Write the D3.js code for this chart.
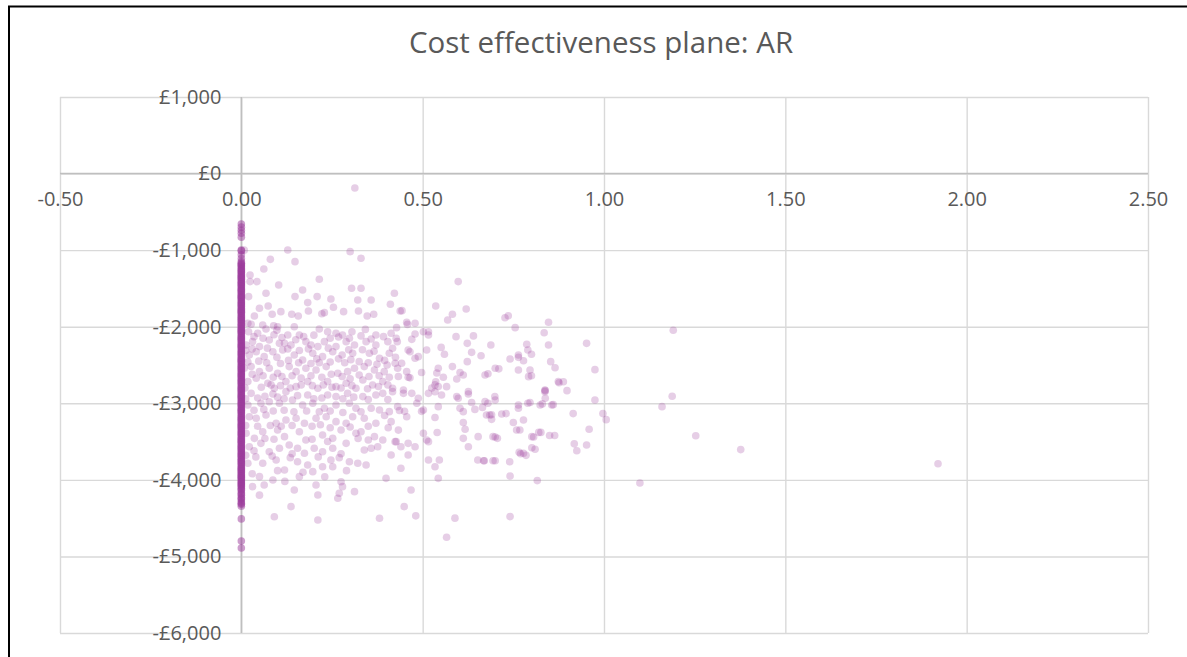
<!DOCTYPE html>
<html><head><meta charset="utf-8">
<script src="https://cdn.jsdelivr.net/npm/d3@7"></script>
<style>
html,body{margin:0;padding:0;background:#fff;}
svg{display:block;}
text{font-family:"Open Sans","Noto Sans",sans-serif;fill:#595959;}
</style></head>
<body>
<svg id="chart" width="1187" height="657"></svg>
<script>
const chartTitle = "Cost effectiveness plane: AR";
const xTickValues = [-0.5, 0, 0.5, 1, 1.5, 2, 2.5];
const xTickLabels = ["-0.50", "0.00", "0.50", "1.00", "1.50", "2.00", "2.50"];
const yTickValues = [1000, 0, -1000, -2000, -3000, -4000, -5000, -6000];
const yTickLabels = ["£1,000", "£0", "-£1,000", "-£2,000", "-£3,000", "-£4,000", "-£5,000", "-£6,000"];

// Incremental cost of simulations with zero incremental QALY (dense strip at 0.00)
const zeroQalyCosts = [-660,-700,-740,-780,-830,-1000,-1010,-1060,-1110,-1150,-1170,-1195,-1220,-1240,-1265,-1290,-1310,-1335,-1360,-1385,-1405,-1430,-1455,-1480,-1500,-1525,-1550,-1570,-1595,-1620,-1645,-1665,-1690,-1715,-1740,-1760,-1785,-1810,-1835,-1855,-1880,-1905,-1930,-1950,-1975,-2000,-2020,-2045,-2070,-2095,-2115,-2140,-2165,-2190,-2210,-2235,-2260,-2285,-2305,-2330,-2355,-2380,-2400,-2425,-2450,-2475,-2495,-2520,-2545,-2570,-2590,-2615,-2640,-2665,-2685,-2710,-2735,-2760,-2780,-2805,-2830,-2855,-2875,-2900,-2925,-2950,-2970,-2995,-3020,-3045,-3065,-3090,-3115,-3140,-3160,-3185,-3210,-3235,-3255,-3280,-3305,-3330,-3350,-3375,-3400,-3425,-3445,-3470,-3495,-3520,-3540,-3565,-3590,-3615,-3635,-3660,-3685,-3710,-3730,-3755,-3780,-3805,-3825,-3850,-3875,-3900,-3920,-3945,-3970,-3995,-4015,-4040,-4065,-4090,-4110,-4140,-4170,-4200,-4230,-4260,-4290,-4320,-4345,-4510,-4800,-4890,
-1182,-1208,-1252,-1278,-1322,-1348,-1372,-1418,-1442,-1468,-1512,-1538,-1582,-1608,-1632,-1678,-1702,-1728,-1772,-1798,-1822,-1868,-1892,-1918,-1962,-1988,-2032,-2058,-2082,-2128,-2152,-2178,-2222,-2248,-2272,-2318,-2342,-2368,-2412,-2438,-2462,-2508,-2532,-2558,-2602,-2628,-2652,-2698,-2722,-2748,-2792,-2818,-2842,-2888,-2912,-2938,-2982,-3008,-3032,-3078,-3102,-3128,-3172,-3198,-3222,-3268,-3292,-3318,-3362,-3388,-3412,-3458,-3482,-3508,-3552,-3578,-3602,-3648,-3672,-3698,-3742,-3768,-3792,-3838,-3862,-3888,-3932,-3958,-3982,-4028,-4052,-4078,-4125,-4185,-4245,-4305];

// [incremental QALY, incremental cost]
const scatterPoints = [
[0.008,-1000],[0.128,-998],[0.30,-1020],[0.33,-1106],[0.08,-1120],[0.148,-1150],[0.062,-1246],[0.024,-1324],[0.043,-1411],[0.024,-1411],[0.215,-1380],[0.103,-1455],[0.304,-1498],[0.33,-1498],[0.169,-1520],[0.068,-1563],[0.02,-1607],[0.148,-1607],[0.209,-1607],[0.247,-1638],[0.321,-1651],[0.358,-1651],[0.422,-1563],[0.183,-1685],[0.411,-1707],[0.074,-1729],[0.254,-1746],[0.05,-1759],[0.185,-1795],[0.109,-1803],[0.229,-1816],[0.282,-1803],[0.323,-1795],[0.347,-1860],[0.365,-1838],[0.438,-1795],[0.036,-1860],[0.085,-1838],[0.139,-1838],[0.157,-1860],[0.222,-1830],[0.018,-1955],[0.027,-1968],[0.059,-1977],[0.089,-1987],[0.10,-2000],[0.146,-2000],
[0.020,-2065],[0.045,-2086],[0.068,-2030],[0.098,-2045],[0.128,-2108],[0.160,-2108],[0.215,-2030],[0.238,-2065],[0.261,-2086],[0.279,-2108],[0.305,-2065],[0.342,-2035],[0.371,-2108],[0.413,-2086],[0.427,-2151],
[0.013,-2239],[0.031,-2195],[0.050,-2260],[0.077,-2173],[0.105,-2217],[0.119,-2217],[0.137,-2239],[0.178,-2195],[0.192,-2239],[0.211,-2260],[0.229,-2195],[0.261,-2260],[0.289,-2195],[0.312,-2239],[0.344,-2195],[0.371,-2239],[0.404,-2195],[0.417,-2282],
[0.022,-2369],[0.041,-2326],[0.063,-2391],[0.087,-2326],[0.114,-2304],[0.146,-2369],[0.169,-2434],[0.197,-2347],[0.224,-2391],[0.252,-2326],[0.278,-2369],[0.307,-2347],[0.325,-2456],[0.353,-2347],[0.381,-2412],[0.408,-2347],
[0.008,-2543],[0.027,-2521],[0.050,-2587],[0.077,-2543],[0.100,-2608],[0.132,-2521],[0.151,-2587],[0.178,-2543],[0.206,-2565],[0.234,-2521],[0.266,-2608],[0.293,-2587],[0.312,-2543],[0.339,-2521],[0.367,-2565],[0.394,-2587],[0.431,-2543],
[0.018,-2717],[0.041,-2673],[0.073,-2739],[0.091,-2804],[0.123,-2717],[0.151,-2783],[0.183,-2717],[0.211,-2804],[0.238,-2717],[0.261,-2783],[0.289,-2739],[0.316,-2804],[0.335,-2696],[0.362,-2761],[0.390,-2717],[0.417,-2804],
[0.027,-2870],[0.087,-2878],[0.123,-2848],[0.183,-2891],[0.238,-2891],[0.261,-2913],[0.293,-2870],[0.335,-2913],[0.371,-2891],[0.390,-2870],[0.417,-2848],
[0.018,-3022],[0.054,-3000],[0.077,-2979],[0.105,-3000],[0.141,-2957],[0.169,-3022],[0.197,-3000],[0.229,-3065],[0.261,-3022],[0.298,-3000],[0.316,-3065],[0.358,-3065],[0.381,-3087],[0.408,-3109],[0.431,-3044],
[0.022,-3175],[0.041,-3196],[0.068,-3153],[0.096,-3261],[0.123,-3218],[0.151,-3196],[0.174,-3261],[0.206,-3196],[0.234,-3175],[0.261,-3240],[0.289,-3261],[0.307,-3175],[0.339,-3196],[0.371,-3261],[0.413,-3240],
[0.013,-3392],[0.036,-3458],[0.059,-3371],[0.100,-3349],[0.119,-3436],[0.160,-3371],[0.178,-3479],[0.224,-3414],[0.252,-3458],[0.275,-3349],[0.316,-3392],[0.330,-3371],[0.367,-3436],[0.390,-3479],[0.427,-3501],
[0.022,-3567],[0.054,-3523],[0.077,-3632],[0.105,-3588],[0.132,-3544],[0.155,-3588],[0.174,-3653],[0.201,-3588],[0.224,-3632],[0.252,-3588],[0.289,-3523],[0.339,-3610],[0.358,-3588],[0.376,-3567],[0.413,-3675],
[0.018,-3784],[0.059,-3784],[0.096,-3740],[0.119,-3871],[0.155,-3763],[0.183,-3806],[0.197,-3893],[0.224,-3828],[0.247,-3740],[0.252,-3828],[0.298,-3763],[0.321,-3784],[0.344,-3806],[0.440,-3849],
[0.031,-4089],[0.050,-3958],[0.063,-4067],[0.087,-4002],[0.146,-4132],[0.160,-3958],[0.206,-4067],[0.275,-4024],[0.279,-4089],[0.312,-4154],[0.399,-3980],
[0.137,-4350],[0.211,-4197],[0.266,-4241],[0.270,-4175],[0.091,-4481],[0.211,-4524],[0.381,-4502],
[0.035,-2130],[0.060,-2150],[0.090,-2105],[0.112,-2140],[0.150,-2170],[0.172,-2130],[0.200,-2110],[0.245,-2150],[0.268,-2135],[0.298,-2150],[0.330,-2120],[0.358,-2160],[0.392,-2130],
[0.012,-2310],[0.030,-2290],[0.072,-2280],[0.098,-2400],[0.128,-2290],[0.160,-2310],[0.185,-2290],[0.208,-2420],[0.240,-2280],[0.268,-2420],[0.296,-2300],[0.334,-2300],[0.366,-2320],[0.395,-2440],[0.425,-2400],
[0.018,-2460],[0.048,-2450],[0.070,-2470],[0.108,-2480],[0.130,-2440],[0.158,-2470],[0.192,-2480],[0.215,-2470],[0.245,-2460],[0.285,-2470],[0.302,-2430],[0.350,-2470],[0.374,-2490],[0.402,-2500],
[0.030,-2620],[0.060,-2640],[0.088,-2660],[0.112,-2650],[0.140,-2640],[0.165,-2670],[0.192,-2640],[0.222,-2660],[0.248,-2620],[0.278,-2650],[0.300,-2680],[0.325,-2630],[0.352,-2650],[0.380,-2640],[0.408,-2660],
[0.010,-2800],[0.055,-2790],[0.082,-2760],[0.108,-2770],[0.135,-2800],[0.165,-2760],[0.196,-2770],[0.226,-2760],[0.250,-2790],[0.275,-2800],[0.305,-2770],[0.348,-2810],[0.378,-2780],[0.404,-2760],
[0.012,-2940],[0.045,-2930],[0.065,-2910],[0.100,-2920],[0.118,-2940],[0.155,-2900],[0.200,-2940],[0.222,-2930],[0.280,-2940],[0.310,-2920],[0.350,-2950],[0.404,-2950],
[0.035,-3090],[0.062,-3080],[0.088,-3100],[0.118,-3090],[0.145,-3110],[0.180,-3100],[0.215,-3110],[0.245,-3100],[0.280,-3120],[0.330,-3110],[0.395,-3160],
[0.012,-3290],[0.045,-3300],[0.080,-3290],[0.110,-3300],[0.140,-3290],[0.195,-3300],[0.218,-3280],[0.245,-3320],[0.300,-3310],[0.350,-3300],[0.405,-3320],
[0.035,-3620],[0.065,-3460],[0.090,-3470],[0.140,-3660],[0.195,-3470],[0.238,-3500],[0.275,-3660],[0.322,-3460],[0.35,-3480],
[0.012,-3680],[0.040,-3700],[0.085,-3690],[0.135,-3710],[0.170,-3900],[0.212,-3700],[0.270,-3710],[0.030,-3920],[0.100,-3880],[0.230,-3960],[0.290,-3880],[0.050,-4200],[0.120,-4020],
[0.598,-1411],[0.536,-1729],[0.620,-1768],[0.582,-1838],[0.569,-1912],[0.727,-1882],[0.736,-1856],[0.443,-1790],[0.456,-1942],[0.458,-1970],[0.479,-1955],[0.755,-2012],[0.847,-1942],[0.835,-2078],[0.428,-2012],[0.502,-2065],[0.516,-2065],[0.516,-2108],[0.479,-2095],[0.592,-2130],[0.640,-2120],[0.623,-2217],[0.688,-2239],[0.43,-2195],[0.47,-2165],[0.787,-2230],[0.847,-2239],[0.551,-2270],[0.46,-2304],[0.465,-2326],[0.511,-2304],[0.635,-2335],[0.79,-2304],[0.80,-2360],[0.56,-2360],[0.661,-2380],[0.488,-2391],[0.479,-2412],[0.764,-2369],[0.764,-2400],[0.741,-2421],[0.778,-2445],[0.853,-2456],[0.442,-2478],[0.424,-2478],[0.623,-2456],[0.543,-2543],[0.582,-2521],[0.70,-2543],[0.796,-2565],[0.764,-2565],[0.865,-2536],[0.456,-2587],[0.497,-2597],[0.539,-2605],[0.603,-2597],[0.612,-2630],[0.672,-2630],[0.792,-2652],[0.46,-2660],[0.465,-2668],[0.557,-2660],[0.594,-2683],[0.433,-2650],[0.536,-2720],[0.534,-2760],[0.543,-2780],[0.525,-2800],[0.874,-2717],[0.566,-2783],[0.626,-2848],[0.837,-2826],[0.447,-2826],
[0.447,-2870],[0.470,-2870],[0.488,-2935],[0.484,-3000],[0.516,-2870],[0.534,-2848],[0.552,-2891],[0.594,-2913],[0.598,-2935],[0.626,-2878],[0.635,-2990],[0.672,-2978],[0.699,-2913],[0.764,-3022],[0.764,-3065],[0.796,-2990],[0.824,-3022],[0.838,-2935],[0.856,-3022],[0.837,-2848],
[0.436,-3095],[0.450,-3105],[0.456,-3175],[0.497,-3105],[0.502,-3087],[0.543,-3044],[0.603,-3065],[0.612,-3109],[0.644,-3080],[0.665,-3055],[0.676,-3153],[0.685,-3153],[0.690,-3210],[0.718,-3140],[0.750,-3250],[0.778,-3218],[0.612,-3250],
[0.433,-3350],[0.424,-3501],[0.44,-3567],[0.46,-3523],[0.479,-3567],[0.46,-3675],[0.502,-3392],[0.511,-3479],[0.516,-3501],[0.54,-3381],[0.534,-3185],[0.617,-3340],[0.612,-3458],[0.626,-3567],[0.653,-3436],[0.694,-3436],[0.706,-3458],[0.759,-3349],[0.801,-3436],[0.82,-3380],[0.864,-3420],[0.766,-3640],[0.778,-3653],[0.801,-3580],
[0.516,-3740],[0.546,-3740],[0.534,-3828],[0.543,-3980],[0.652,-3740],[0.668,-3750],[0.694,-3750],[0.74,-3763],[0.741,-3950],[0.816,-4010],[0.468,-4132],[0.449,-4350],[0.481,-4470],[0.589,-4500],[0.741,-4480],[0.566,-4750],
[1.191,-2047],[0.952,-2217],[0.975,-2561],[0.71,-2550],[0.68,-2615],[0.80,-2640],[0.876,-2731],[0.888,-2718],[0.838,-2835],[0.898,-2835],[0.975,-2957],[0.68,-3000],[0.70,-2957],[0.79,-3000],[0.83,-3008],[0.86,-3018],[1.188,-2909],[1.160,-3044],[0.997,-3135],[1.006,-3214],[0.915,-3135],[0.73,-3135],[0.69,-3150],[0.768,-3348],[0.959,-3340],[0.826,-3380],[0.806,-3440],[0.85,-3420],[0.70,-3440],[1.253,-3423],[0.918,-3530],[0.925,-3620],[0.952,-3545],[0.81,-3600],[0.77,-3660],[0.785,-3680],[1.377,-3605],[0.67,-3750],[0.70,-3750],[1.099,-4041],[1.921,-3789],[0.313,-188]
];

const svg = d3.select("#chart");

// figure frame (partially visible)
svg.append("path").attr("d", "M9,700 L9,6.5 L1200,6.5").attr("fill", "none").attr("stroke", "#000").attr("stroke-width", 2);

const x = d3.scaleLinear().domain([-0.5, 2.5]).range([60, 1148]);
const y = d3.scaleLinear().domain([-6000, 1000]).range([633, 97]);

// gridlines
svg.append("g").attr("class", "grid-x").attr("transform", `translate(0,${y(-6000)})`)
  .call(d3.axisBottom(x).tickValues(xTickValues).tickSize(-(y(-6000) - y(1000))).tickFormat(""))
  .call(g => g.select(".domain").remove())
  .call(g => g.selectAll("line").attr("stroke", "#d9d9d9").attr("stroke-width", 1.4));
svg.append("g").attr("class", "grid-y").attr("transform", `translate(${x(-0.5)},0)`)
  .call(d3.axisLeft(y).tickValues(yTickValues).tickSize(-(x(2.5) - x(-0.5))).tickFormat(""))
  .call(g => g.select(".domain").remove())
  .call(g => g.selectAll("line").attr("stroke", "#d9d9d9").attr("stroke-width", 1.4));

// axis lines through origin
svg.append("line").attr("x1", x(0)).attr("x2", x(0)).attr("y1", y(1000)).attr("y2", y(-6000))
  .attr("stroke", "#bfbfbf").attr("stroke-width", 1.6);
svg.append("line").attr("x1", x(-0.5)).attr("x2", x(2.5)).attr("y1", y(0)).attr("y2", y(0))
  .attr("stroke", "#bfbfbf").attr("stroke-width", 1.6);

// points
const pts = svg.append("g").attr("class", "points");
pts.selectAll("circle.zero").data(zeroQalyCosts).join("circle").attr("class", "zero")
  .attr("cx", x(0)).attr("cy", d => y(d)).attr("r", 3.8)
  .attr("fill", "#9b3c9b").attr("fill-opacity", 0.5);
pts.selectAll("circle.sim").data(scatterPoints).join("circle").attr("class", "sim")
  .attr("cx", d => x(d[0])).attr("cy", d => y(d[1])).attr("r", 3.8)
  .attr("fill", "#9b3c9b").attr("fill-opacity", 0.25);

// tick labels
svg.append("g").attr("class", "x-labels").attr("transform", `translate(0,${y(0)})`)
  .call(d3.axisBottom(x).tickValues(xTickValues).tickSize(0).tickPadding(18)
    .tickFormat((d, i) => xTickLabels[i]))
  .call(g => g.select(".domain").remove())
  .call(g => g.selectAll("text").attr("font-size", 20).attr("fill", "#595959")
    .attr("font-family", "'Open Sans','Noto Sans',sans-serif"));
svg.append("g").attr("class", "y-labels").attr("transform", `translate(${x(0)},0)`)
  .call(d3.axisLeft(y).tickValues(yTickValues).tickSize(0).tickPadding(20)
    .tickFormat((d, i) => yTickLabels[i]))
  .call(g => g.select(".domain").remove())
  .call(g => g.selectAll("text").attr("font-size", 20).attr("fill", "#595959")
    .attr("font-family", "'Open Sans','Noto Sans',sans-serif"));

// title
svg.append("text").attr("x", 601).attr("y", 53).attr("text-anchor", "middle")
  .attr("font-size", 29.5).attr("fill", "#595959").text(chartTitle);
</script>
</body></html>
